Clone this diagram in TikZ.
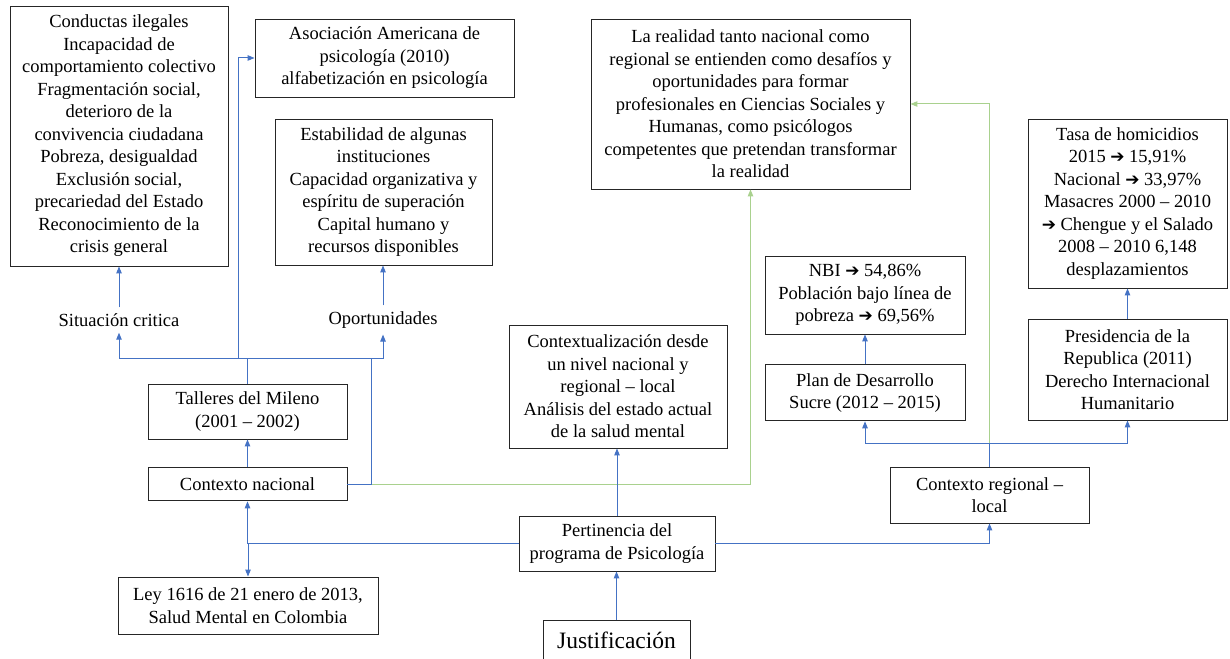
\documentclass[tikz,border=0pt]{standalone}
\usepackage{fontspec}
\setmainfont{Liberation Serif}
\newfontfamily\flechafont{DejaVu Sans}
\usetikzlibrary{arrows.meta,positioning}
\definecolor{azulflujo}{RGB}{68,114,196}
\definecolor{verdeflujo}{RGB}{169,209,142}
\newcommand{\textoCaja}{\fontsize{18.5}{22.5}\selectfont}
\newcommand{\flecha}{{\flechafont\bfseries\fontsize{17}{17}\selectfont ➔}}
\tikzset{
  caja/.style={draw=black!85, line width=0.9pt, align=center, inner sep=0pt, font=\textoCaja},
  tam/.style 2 args={minimum width=#1pt, minimum height=#2pt},
  etiqueta/.style={align=center, inner sep=6pt, font=\textoCaja},
  flujo/.style={draw=azulflujo, line width=1pt, -{Triangle[length=7pt,width=5.5pt]}},
  enlace/.style={draw=verdeflujo, line width=1pt, -{Triangle[length=7pt,width=5.5pt]}}
}
\begin{document}
\begin{tikzpicture}[x=1pt, y=1pt]
  \useasboundingbox (0,0) rectangle (1230,658);

  \begin{scope}[every node/.style={caja}]
    \node [tam={218}{260}] (crit) at (119,522) {Conductas ilegales\\ Incapacidad de\\ comportamiento colectivo\\ Fragmentación social,\\ deterioro de la\\ convivencia ciudadana\\ Pobreza, desigualdad\\ Exclusión social,\\ precariedad del Estado\\ Reconocimiento de la\\ crisis general};
    \node [tam={259}{78}] (apa) at (384.5,600) {Asociación Americana de\\ psicología (2010)\\ alfabetización en psicología};
    \node [tam={217}{146}] (estab) at (383.5,466) {Estabilidad de algunas\\ instituciones\\ Capacidad organizativa y\\ espíritu de superación\\ Capital humano y\\ recursos disponibles};
    \node [tam={319}{170}] (realidad) at (750.5,554) {La realidad tanto nacional como\\ regional se entienden como desafíos y\\ oportunidades para formar\\ profesionales en Ciencias Sociales y\\ Humanas, como psicólogos\\ competentes que pretendan transformar\\ la realidad};
    \node [tam={199}{169}] (tasa) at (1127.5,454.5) {Tasa de homicidios\\ 2015 \flecha{} 15,91\%\\ Nacional \flecha{} 33,97\%\\ Masacres 2000 – 2010\\ \flecha{} Chengue y el Salado\\ 2008 – 2010 6,148\\ desplazamientos};
    \node [tam={200}{78}] (nbi) at (865,363) {NBI \flecha{} 54,86\%\\ Población bajo línea de\\ pobreza \flecha{} 69,56\%};
    \node [tam={200}{56}, below=30pt of nbi] (plan) {Plan de Desarrollo\\ Sucre (2012 – 2015)};
    \node [tam={199}{101}] (presid) at (1127.5,288.5) {Presidencia de la\\ Republica (2011)\\ Derecho Internacional\\ Humanitario};
    \node [tam={218}{123}] (contextual) at (618,271.5) {Contextualización desde\\ un nivel nacional y\\ regional – local\\ Análisis del estado actual\\ de la salud mental};
    \node [tam={199}{55}] (talleres) at (247.5,246.5) {Talleres del Mileno\\ (2001 – 2002)};
    \node [tam={199}{33}, below=28pt of talleres] (nacional) {Contexto nacional};
    \node [tam={199}{56}] (regional) at (989.5,163) {Contexto regional –\\ local};
    \node [tam={196}{55}] (pertin) at (617,114.5) {Pertinencia del\\ programa de Psicología};
    \node [tam={260}{57}] (ley) at (248,52.5) {Ley 1616 de 21 enero de 2013,\\ Salud Mental en Colombia};
    \node [anchor=north, minimum width=147pt, inner ysep=8pt, text height=20pt, text depth=30pt,
      font=\fontsize{23.5}{26}\selectfont] (justif) at (616.5,38) {Justificación};
  \end{scope}

  \node [etiqueta] (critica) at (119,338) {Situación critica};
  \node [etiqueta] (oport) at (383,338) {Oportunidades};

  \coordinate (rama) at (247.5,299);
  \coordinate (ramaApa) at (238,299);
  \coordinate (ramaNac) at (371,299);
  \coordinate (ramaReg) at (989.5,214);

  % enlaces verdes
  \draw [enlace] (nacional.east) -| (realidad.south);
  \draw [enlace] (regional.north) |- (realidad.east);

  % contexto nacional
  \draw [flujo] (critica.north) -- (crit.south);
  \draw [flujo] (oport.north) -- (oport.north |- estab.south);
  \draw [flujo] (talleres.north) -- (rama) -| (critica.south);
  \draw [flujo] (rama) -| (oport.south);
  \draw [flujo] (ramaApa) |- (apa.west);
  \draw [flujo, -] (nacional.east) -| (ramaNac);
  \draw [flujo] (nacional.north) -- (talleres.south);
  \draw [flujo] (pertin.west) -| (nacional.south);
  \draw [flujo] (pertin.west) -| (ley.north);

  % centro
  \draw [flujo] (pertin.north) -- (pertin.north |- contextual.south);
  \draw [flujo] (justif.north) -- (justif.north |- pertin.south);

  % contexto regional
  \draw [flujo] (pertin.east) -| (regional.south);
  \draw [flujo] (regional.north) -- (ramaReg) -| (plan.south);
  \draw [flujo] (ramaReg) -| (presid.south);
  \draw [flujo] (plan.north) -- (nbi.south);
  \draw [flujo] (presid.north) -- (tasa.south);
\end{tikzpicture}
\end{document}
